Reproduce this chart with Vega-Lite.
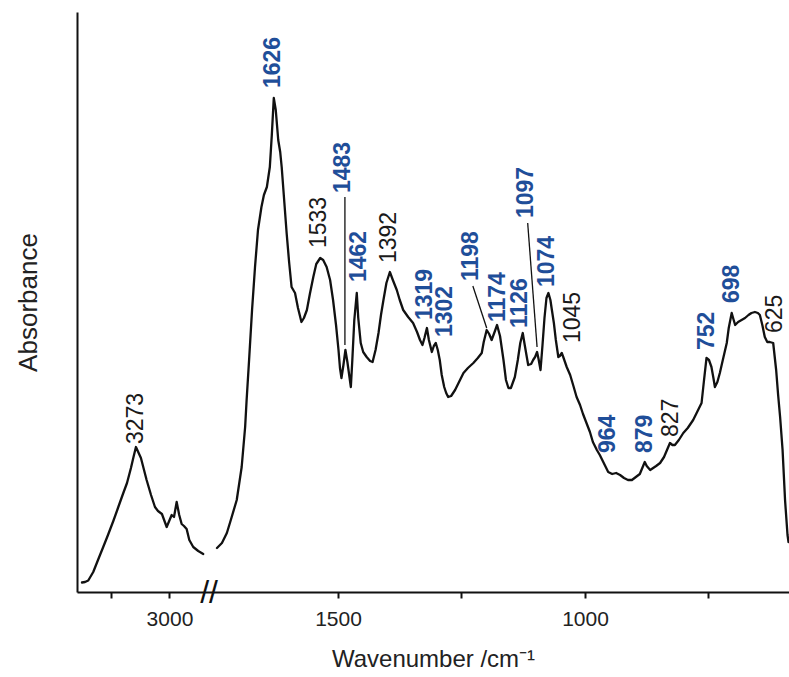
{
  "$schema": "https://vega.github.io/schema/vega-lite/v6.json",
  "autosize": {"type": "none"},
  "width": 712,
  "height": 580,
  "padding": {"left": 77, "top": 12, "right": 0, "bottom": 85},
  "background": "white",
  "config": {
    "view": {"stroke": null},
    "font": "Liberation Sans",
    "axis": {"grid": false, "domainColor": "#111", "domainWidth": 2, "tickColor": "#111", "tickWidth": 2, "labelColor": "#222", "titleColor": "#222", "titleFontWeight": "normal"}
  },
  "datasets": {
    "spectrum": [
      {"w": 3754, "a": 0.095, "s": "a"}, {"w": 3728, "a": 0.10, "s": "a"}, {"w": 3700, "a": 0.115, "s": "a"},
      {"w": 3657, "a": 0.20, "s": "a"}, {"w": 3616, "a": 0.32, "s": "a"}, {"w": 3571, "a": 0.45, "s": "a"},
      {"w": 3530, "a": 0.57, "s": "a"}, {"w": 3484, "a": 0.71, "s": "a"}, {"w": 3444, "a": 0.84, "s": "a"},
      {"w": 3401, "a": 0.98, "s": "a"}, {"w": 3366, "a": 1.09, "s": "a"}, {"w": 3332, "a": 1.24, "s": "a"},
      {"w": 3310, "a": 1.35, "s": "a"}, {"w": 3289, "a": 1.45, "s": "a"}, {"w": 3246, "a": 1.34, "s": "a"},
      {"w": 3197, "a": 1.12, "s": "a"}, {"w": 3159, "a": 0.97, "s": "a"}, {"w": 3125, "a": 0.85, "s": "a"},
      {"w": 3099, "a": 0.81, "s": "a"}, {"w": 3065, "a": 0.78, "s": "a"}, {"w": 3024, "a": 0.65, "s": "a"},
      {"w": 2981, "a": 0.77, "s": "a"}, {"w": 2961, "a": 0.75, "s": "a"}, {"w": 2938, "a": 0.90, "s": "a"},
      {"w": 2916, "a": 0.77, "s": "a"}, {"w": 2895, "a": 0.68, "s": "a"}, {"w": 2875, "a": 0.66, "s": "a"},
      {"w": 2852, "a": 0.63, "s": "a"}, {"w": 2829, "a": 0.52, "s": "a"}, {"w": 2795, "a": 0.45, "s": "a"},
      {"w": 2752, "a": 0.41, "s": "a"}, {"w": 2709, "a": 0.38, "s": "a"},
      {"w": 1745, "a": 0.44, "s": "b"}, {"w": 1735, "a": 0.49, "s": "b"}, {"w": 1725, "a": 0.59, "s": "b"},
      {"w": 1717, "a": 0.72, "s": "b"}, {"w": 1705, "a": 0.92, "s": "b"}, {"w": 1695, "a": 1.25, "s": "b"},
      {"w": 1688, "a": 1.65, "s": "b"}, {"w": 1685, "a": 1.92, "s": "b"}, {"w": 1680, "a": 2.32, "s": "b"},
      {"w": 1674, "a": 2.82, "s": "b"}, {"w": 1668, "a": 3.25, "s": "b"}, {"w": 1662, "a": 3.62, "s": "b"},
      {"w": 1655, "a": 3.85, "s": "b"}, {"w": 1650, "a": 3.97, "s": "b"}, {"w": 1644, "a": 4.05, "s": "b"},
      {"w": 1638, "a": 4.25, "s": "b"}, {"w": 1634, "a": 4.57, "s": "b"}, {"w": 1630, "a": 4.94, "s": "b"},
      {"w": 1626, "a": 4.82, "s": "b"}, {"w": 1621, "a": 4.52, "s": "b"}, {"w": 1617, "a": 4.40, "s": "b"},
      {"w": 1614, "a": 4.25, "s": "b"}, {"w": 1609, "a": 3.92, "s": "b"}, {"w": 1604, "a": 3.59, "s": "b"},
      {"w": 1599, "a": 3.30, "s": "b"}, {"w": 1594, "a": 3.05, "s": "b"}, {"w": 1587, "a": 2.99, "s": "b"},
      {"w": 1581, "a": 2.84, "s": "b"}, {"w": 1574, "a": 2.70, "s": "b"}, {"w": 1569, "a": 2.74, "s": "b"},
      {"w": 1563, "a": 2.82, "s": "b"}, {"w": 1557, "a": 2.98, "s": "b"}, {"w": 1550, "a": 3.15, "s": "b"},
      {"w": 1544, "a": 3.28, "s": "b"}, {"w": 1536, "a": 3.34, "s": "b"}, {"w": 1530, "a": 3.32, "s": "b"},
      {"w": 1523, "a": 3.25, "s": "b"}, {"w": 1516, "a": 3.12, "s": "b"}, {"w": 1510, "a": 2.92, "s": "b"},
      {"w": 1504, "a": 2.67, "s": "b"}, {"w": 1499, "a": 2.42, "s": "b"}, {"w": 1496, "a": 2.24, "s": "b"},
      {"w": 1493, "a": 2.14, "s": "b"}, {"w": 1489, "a": 2.27, "s": "b"}, {"w": 1485, "a": 2.42, "s": "b"},
      {"w": 1481, "a": 2.30, "s": "b"}, {"w": 1474, "a": 2.05, "s": "b"}, {"w": 1471, "a": 2.32, "s": "b"},
      {"w": 1467, "a": 2.72, "s": "b"}, {"w": 1462, "a": 2.99, "s": "b"}, {"w": 1459, "a": 2.74, "s": "b"},
      {"w": 1454, "a": 2.49, "s": "b"}, {"w": 1449, "a": 2.40, "s": "b"}, {"w": 1442, "a": 2.35, "s": "b"},
      {"w": 1435, "a": 2.31, "s": "b"}, {"w": 1430, "a": 2.30, "s": "b"}, {"w": 1424, "a": 2.42, "s": "b"},
      {"w": 1418, "a": 2.59, "s": "b"}, {"w": 1413, "a": 2.77, "s": "b"}, {"w": 1408, "a": 2.92, "s": "b"},
      {"w": 1402, "a": 3.09, "s": "b"}, {"w": 1395, "a": 3.20, "s": "b"}, {"w": 1389, "a": 3.12, "s": "b"},
      {"w": 1381, "a": 3.02, "s": "b"}, {"w": 1375, "a": 2.92, "s": "b"}, {"w": 1368, "a": 2.82, "s": "b"},
      {"w": 1358, "a": 2.75, "s": "b"}, {"w": 1348, "a": 2.69, "s": "b"}, {"w": 1340, "a": 2.60, "s": "b"},
      {"w": 1334, "a": 2.52, "s": "b"}, {"w": 1329, "a": 2.47, "s": "b"}, {"w": 1325, "a": 2.54, "s": "b"},
      {"w": 1320, "a": 2.64, "s": "b"}, {"w": 1316, "a": 2.52, "s": "b"}, {"w": 1310, "a": 2.40, "s": "b"},
      {"w": 1306, "a": 2.46, "s": "b"}, {"w": 1302, "a": 2.49, "s": "b"}, {"w": 1298, "a": 2.42, "s": "b"},
      {"w": 1294, "a": 2.32, "s": "b"}, {"w": 1290, "a": 2.17, "s": "b"}, {"w": 1285, "a": 2.05, "s": "b"},
      {"w": 1281, "a": 1.99, "s": "b"}, {"w": 1277, "a": 1.95, "s": "b"}, {"w": 1271, "a": 1.96, "s": "b"},
      {"w": 1263, "a": 2.02, "s": "b"}, {"w": 1255, "a": 2.10, "s": "b"}, {"w": 1246, "a": 2.19, "s": "b"},
      {"w": 1237, "a": 2.24, "s": "b"}, {"w": 1226, "a": 2.29, "s": "b"}, {"w": 1217, "a": 2.34, "s": "b"},
      {"w": 1209, "a": 2.39, "s": "b"}, {"w": 1205, "a": 2.50, "s": "b"}, {"w": 1199, "a": 2.62, "s": "b"},
      {"w": 1194, "a": 2.58, "s": "b"}, {"w": 1189, "a": 2.52, "s": "b"}, {"w": 1183, "a": 2.60, "s": "b"},
      {"w": 1178, "a": 2.67, "s": "b"}, {"w": 1172, "a": 2.56, "s": "b"}, {"w": 1165, "a": 2.32, "s": "b"},
      {"w": 1160, "a": 2.12, "s": "b"}, {"w": 1155, "a": 2.04, "s": "b"}, {"w": 1150, "a": 2.04, "s": "b"},
      {"w": 1142, "a": 2.15, "s": "b"}, {"w": 1136, "a": 2.32, "s": "b"}, {"w": 1131, "a": 2.49, "s": "b"},
      {"w": 1126, "a": 2.59, "s": "b"}, {"w": 1122, "a": 2.47, "s": "b"}, {"w": 1115, "a": 2.27, "s": "b"},
      {"w": 1109, "a": 2.28, "s": "b"}, {"w": 1105, "a": 2.32, "s": "b"}, {"w": 1101, "a": 2.35, "s": "b"},
      {"w": 1097, "a": 2.40, "s": "b"}, {"w": 1094, "a": 2.33, "s": "b"}, {"w": 1090, "a": 2.22, "s": "b"},
      {"w": 1086, "a": 2.47, "s": "b"}, {"w": 1082, "a": 2.74, "s": "b"}, {"w": 1078, "a": 2.94, "s": "b"},
      {"w": 1074, "a": 2.99, "s": "b"}, {"w": 1070, "a": 2.92, "s": "b"}, {"w": 1067, "a": 2.82, "s": "b"},
      {"w": 1063, "a": 2.69, "s": "b"}, {"w": 1059, "a": 2.52, "s": "b"}, {"w": 1054, "a": 2.35, "s": "b"},
      {"w": 1051, "a": 2.36, "s": "b"}, {"w": 1047, "a": 2.39, "s": "b"}, {"w": 1044, "a": 2.35, "s": "b"},
      {"w": 1037, "a": 2.25, "s": "b"}, {"w": 1030, "a": 2.17, "s": "b"}, {"w": 1024, "a": 2.07, "s": "b"},
      {"w": 1017, "a": 1.95, "s": "b"}, {"w": 1010, "a": 1.87, "s": "b"}, {"w": 1004, "a": 1.78, "s": "b"},
      {"w": 997, "a": 1.69, "s": "b"}, {"w": 990, "a": 1.60, "s": "b"}, {"w": 984, "a": 1.50, "s": "b"},
      {"w": 976, "a": 1.42, "s": "b"}, {"w": 970, "a": 1.37, "s": "b"}, {"w": 963, "a": 1.30, "s": "b"},
      {"w": 959, "a": 1.26, "s": "b"}, {"w": 953, "a": 1.20, "s": "b"}, {"w": 945, "a": 1.18, "s": "b"},
      {"w": 937, "a": 1.19, "s": "b"}, {"w": 929, "a": 1.17, "s": "b"}, {"w": 921, "a": 1.14, "s": "b"},
      {"w": 913, "a": 1.12, "s": "b"}, {"w": 905, "a": 1.12, "s": "b"}, {"w": 897, "a": 1.15, "s": "b"},
      {"w": 889, "a": 1.18, "s": "b"}, {"w": 884, "a": 1.24, "s": "b"}, {"w": 879, "a": 1.30, "s": "b"},
      {"w": 875, "a": 1.26, "s": "b"}, {"w": 868, "a": 1.22, "s": "b"}, {"w": 862, "a": 1.24, "s": "b"},
      {"w": 856, "a": 1.26, "s": "b"}, {"w": 848, "a": 1.29, "s": "b"}, {"w": 840, "a": 1.35, "s": "b"},
      {"w": 834, "a": 1.42, "s": "b"}, {"w": 828, "a": 1.49, "s": "b"}, {"w": 823, "a": 1.47, "s": "b"},
      {"w": 818, "a": 1.47, "s": "b"}, {"w": 810, "a": 1.52, "s": "b"}, {"w": 801, "a": 1.59, "s": "b"},
      {"w": 792, "a": 1.64, "s": "b"}, {"w": 781, "a": 1.72, "s": "b"}, {"w": 773, "a": 1.80, "s": "b"},
      {"w": 764, "a": 1.89, "s": "b"}, {"w": 759, "a": 2.12, "s": "b"}, {"w": 754, "a": 2.34, "s": "b"},
      {"w": 749, "a": 2.32, "s": "b"}, {"w": 744, "a": 2.25, "s": "b"}, {"w": 740, "a": 2.14, "s": "b"},
      {"w": 737, "a": 2.05, "s": "b"}, {"w": 732, "a": 2.10, "s": "b"}, {"w": 727, "a": 2.19, "s": "b"},
      {"w": 721, "a": 2.32, "s": "b"}, {"w": 713, "a": 2.49, "s": "b"}, {"w": 709, "a": 2.64, "s": "b"},
      {"w": 703, "a": 2.79, "s": "b"}, {"w": 699, "a": 2.72, "s": "b"}, {"w": 696, "a": 2.67, "s": "b"},
      {"w": 690, "a": 2.70, "s": "b"}, {"w": 683, "a": 2.72, "s": "b"}, {"w": 676, "a": 2.74, "s": "b"},
      {"w": 669, "a": 2.77, "s": "b"}, {"w": 663, "a": 2.79, "s": "b"}, {"w": 656, "a": 2.80, "s": "b"},
      {"w": 650, "a": 2.79, "s": "b"}, {"w": 646, "a": 2.77, "s": "b"}, {"w": 641, "a": 2.67, "s": "b"},
      {"w": 636, "a": 2.55, "s": "b"}, {"w": 631, "a": 2.50, "s": "b"}, {"w": 626, "a": 2.50, "s": "b"},
      {"w": 619, "a": 2.49, "s": "b"}, {"w": 613, "a": 2.22, "s": "b"}, {"w": 609, "a": 1.97, "s": "b"},
      {"w": 605, "a": 1.75, "s": "b"}, {"w": 600, "a": 1.42, "s": "b"}, {"w": 595, "a": 0.92, "s": "b"},
      {"w": 590, "a": 0.57, "s": "b"}, {"w": 588, "a": 0.50, "s": "b"}
    ],
    "labels": [
      {"t": "3273", "lx": 3289, "ly": 1.48, "k": "black"},
      {"t": "1626", "lx": 1632, "ly": 5.04, "k": "blue"},
      {"t": "1533", "lx": 1538, "ly": 3.44, "k": "black"},
      {"t": "1483", "lx": 1489, "ly": 3.99, "k": "blue"},
      {"t": "1462", "lx": 1457, "ly": 3.10, "k": "blue"},
      {"t": "1392", "lx": 1397, "ly": 3.29, "k": "black"},
      {"t": "1319", "lx": 1324, "ly": 2.72, "k": "blue"},
      {"t": "1302", "lx": 1284, "ly": 2.55, "k": "blue"},
      {"t": "1198", "lx": 1231, "ly": 3.11, "k": "blue"},
      {"t": "1174", "lx": 1177, "ly": 2.70, "k": "blue"},
      {"t": "1126", "lx": 1131, "ly": 2.64, "k": "blue"},
      {"t": "1097", "lx": 1119, "ly": 3.74, "k": "blue"},
      {"t": "1074", "lx": 1077, "ly": 3.05, "k": "blue"},
      {"t": "1045", "lx": 1024, "ly": 2.49, "k": "black"},
      {"t": "964", "lx": 954, "ly": 1.39, "k": "blue"},
      {"t": "879", "lx": 879, "ly": 1.39, "k": "blue"},
      {"t": "827", "lx": 826, "ly": 1.55, "k": "black"},
      {"t": "752", "lx": 754, "ly": 2.42, "k": "blue"},
      {"t": "698", "lx": 703, "ly": 2.89, "k": "blue"},
      {"t": "625", "lx": 615, "ly": 2.59, "k": "black"}
    ],
    "leaders": [
      {"x1": 1486, "y1": 3.95, "x2": 1486, "y2": 2.47},
      {"x1": 1227, "y1": 3.06, "x2": 1199, "y2": 2.64},
      {"x1": 1116, "y1": 3.69, "x2": 1097, "y2": 2.45}
    ],
    "brk": [{"x": 1765, "y": 0, "t": "//"}]
  },
  "layer": [
    {
      "data": {"name": "spectrum"},
      "mark": {"type": "line", "color": "#111", "strokeWidth": 2.3, "strokeJoin": "round", "strokeCap": "round"},
      "encoding": {
        "x": {
          "field": "w", "type": "quantitative",
          "scale": {"domain": [3797, 2680, 1765, 587], "range": [0, 129.6, 130.1, 712], "nice": false, "zero": false},
          "axis": {
            "title": "Wavenumber /cm⁻¹",
            "titleFontSize": 24,
            "titlePadding": 18,
            "values": [3500, 3000, 1500, 1250, 1000, 750],
            "labelExpr": "(datum.value == 3000 || datum.value == 1500 || datum.value == 1000) ? '' + datum.value : ''",
            "labelFontSize": 21,
            "labelPadding": 10,
            "tickSize": 6,
            "labelFlush": false,
            "labelOverlap": false
          }
        },
        "y": {
          "field": "a", "type": "quantitative",
          "scale": {"domain": [0, 5.8], "nice": false, "zero": false},
          "axis": {"title": "Absorbance", "titleFontSize": 26, "titlePadding": 36, "labels": false, "ticks": false}
        },
        "detail": {"field": "s"}
      }
    },
    {
      "data": {"name": "leaders"},
      "mark": {"type": "rule", "color": "#111", "strokeWidth": 1.3},
      "encoding": {
        "x": {"field": "x1", "type": "quantitative"},
        "x2": {"field": "x2"},
        "y": {"field": "y1", "type": "quantitative"},
        "y2": {"field": "y2"}
      }
    },
    {
      "data": {"name": "labels"},
      "transform": [{"filter": "datum.k == 'blue'"}],
      "mark": {"type": "text", "angle": 270, "align": "left", "baseline": "middle", "fontSize": 23, "fontWeight": "bold", "color": "#1f4e99"},
      "encoding": {
        "x": {"field": "lx", "type": "quantitative"},
        "y": {"field": "ly", "type": "quantitative"},
        "text": {"field": "t"}
      }
    },
    {
      "data": {"name": "labels"},
      "transform": [{"filter": "datum.k == 'black'"}],
      "mark": {"type": "text", "angle": 270, "align": "left", "baseline": "middle", "fontSize": 23, "fontWeight": "normal", "color": "#1a1a1a"},
      "encoding": {
        "x": {"field": "lx", "type": "quantitative"},
        "y": {"field": "ly", "type": "quantitative"},
        "text": {"field": "t"}
      }
    },
    {
      "data": {"name": "brk"},
      "mark": {"type": "text", "fontSize": 32, "align": "center", "baseline": "middle", "color": "#111", "dx": 2, "dy": 1},
      "encoding": {
        "x": {"field": "x", "type": "quantitative"},
        "y": {"field": "y", "type": "quantitative"},
        "text": {"field": "t"}
      }
    }
  ]
}
